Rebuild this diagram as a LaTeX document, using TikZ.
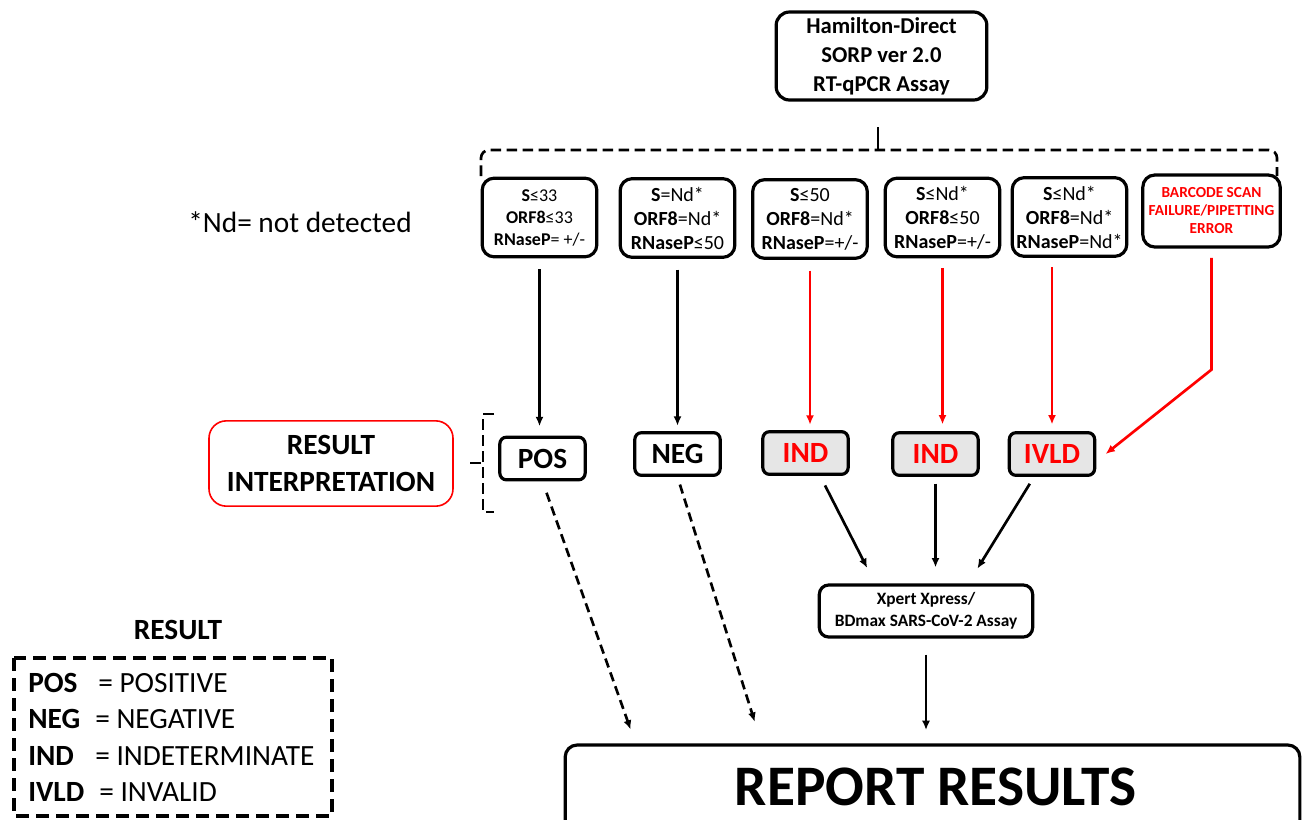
\documentclass[tikz,border=0pt]{standalone}
\usepackage{fontspec}
\setmainfont{Carlito}
\usetikzlibrary{arrows.meta}
\usetikzlibrary{positioning}
\definecolor{boxgray}{RGB}{230,230,230}
\definecolor{errred}{RGB}{255,0,0}

\tikzset{
  cond/.style={draw, line width=2.4pt, rounded corners=9pt, align=center, minimum width=86pt, minimum height=59pt, inner sep=1pt, font=\fontsize{15}{18}\selectfont},
  res/.style={draw, line width=2.4pt, rounded corners=5pt, minimum width=64pt, minimum height=32pt, inner sep=1pt, font=\fontsize{22}{26}\selectfont\bfseries},
  resind/.style={res, fill=boxgray, text=errred},
  arr/.style={line width=2pt, -{Latex[length=7pt,width=6pt]}},
  redarr/.style={arr, errred},
  dasharr/.style={arr, dash pattern=on 7pt off 4pt},
  dashline/.style={line width=2pt, dash pattern=on 8pt off 4pt},
}

\begin{document}
\begin{tikzpicture}[x=0.75pt, y=-0.75pt]
\useasboundingbox (0,0) rectangle (1306,819);
\clip (0,0) rectangle (1306,819);

\node[draw, line width=2.4pt, rounded corners=10pt, align=center, minimum width=158pt, minimum height=66pt,
      font=\fontsize{17}{21.75}\selectfont\bfseries] (assay) at (881.5,56) {Hamilton-Direct\\SORP ver 2.0\\RT-qPCR Assay};

\draw[dashline, rounded corners=6pt] (481,176) |- (1277,150) -- (1277,176);
\draw[line width=2pt] (878,127) -- (878,150);

\node[cond, font=\fontsize{13.5}{16.5}\selectfont] (c1) at (539.5,217.5) {\textbf{S}≤33\\\textbf{ORF8}≤33\\\textbf{RNaseP}= +/-};
\node[cond] (c2) at (677.5,218)   {\textbf{S}=Nd*\\\textbf{ORF8}=Nd*\\\textbf{RNaseP}≤50};
\node[cond] (c3) at (810,219)     {\textbf{S}≤50\\\textbf{ORF8}=Nd*\\\textbf{RNaseP}=+/-};
\node[cond] (c4) at (942.5,217.5) {\textbf{S}≤Nd*\\\textbf{ORF8}≤50\\\textbf{RNaseP}=+/-};
\node[cond] (c5) at (1069.5,217)  {\textbf{S}≤Nd*\\\textbf{ORF8}=Nd*\\\textbf{RNaseP}=Nd*};
\node[cond, text=errred, minimum width=103pt, minimum height=54pt,
      font=\fontsize{11.5}{13.5}\selectfont\bfseries] (c6) at (1211.5,211) {BARCODE SCAN\\FAILURE/PIPETTING\\ERROR};

\node[font=\fontsize{22}{26}\selectfont] (nd) at (300,222) {*Nd= not detected};

\node[draw=errred, line width=1.2pt, rounded corners=13pt, align=center, minimum width=183pt, minimum height=64pt,
      font=\fontsize{22}{27.5}\selectfont\bfseries] (interp) at (331,463.5) {RESULT\\INTERPRETATION};
\draw[dashline] (494,414) -| (483,512) -- (494,512);
\draw[dashline] (470,463) -- (483,463);

\node[res]    (pos)  at (542.5,458.5) {POS};
\node[res]    (neg)  at (677.5,454)   {NEG};
\node[resind] (ind1) at (805.5,453)   {IND};
\node[resind] (ind2) at (935.5,454)   {IND};
\node[resind] (ivld) at (1052,454)    {IVLD};

\node[draw, line width=2.4pt, rounded corners=7pt, align=center, minimum width=160pt, minimum height=39pt,
      font=\fontsize{13}{16.5}\selectfont\bfseries] (xpert) at (926,611) {Xpert Xpress/\\BDmax SARS-CoV-2 Assay};
\node[draw, line width=2.4pt, rounded corners=9pt, minimum width=551pt, minimum height=67.5pt] (report) at (932.5,790) {};
\node[font=\fontsize{43}{50}\selectfont\bfseries, inner sep=0pt] (reptxt) at (936,787) {REPORT RESULTS};

\draw[arr, shorten <=8pt, shorten >=7pt] (c1.south) -- (c1.south |- pos.north);
\draw[arr, shorten <=8pt, shorten >=4pt] (c2.south) -- (c2.south |- neg.north);
\draw[redarr, shorten <=8pt, shorten >=4pt] (c3.south) -- (c3.south |- ind1.north);
\draw[redarr, shorten <=7pt, shorten >=5pt] (c4.south) -- (c4.south |- ind2.north);
\draw[redarr, shorten <=7pt, shorten >=5pt] (c5.south -| ivld.north) -- (ivld.north);
\draw[redarr, shorten <=7pt] (c6.south) -- ++(0,121) -- ([xshift=7pt]ivld.east);

\draw[dasharr, shorten <=9pt, shorten >=11pt] (pos.south) -- ([xshift=54pt]report.north west);
\draw[dasharr, shorten <=6pt, shorten >=17pt] (neg.south) -- ([xshift=148.5pt]report.north west);
\draw[arr, shorten <=8pt, shorten >=13pt] ([xshift=11pt]ind1.south) -- ([xshift=43pt]xpert.north west);
\draw[arr, shorten <=5pt, shorten >=12pt] (ind2.south) -- (ind2.south |- xpert.north);
\draw[arr, shorten <=6pt, shorten >=13pt] ([xshift=-13.5pt]ivld.south) -- ([xshift=-49.5pt]xpert.north east);
\draw[arr, shorten <=12pt, shorten >=10pt] (xpert.south) -- (xpert.south |- report.north);

\node[font=\fontsize{22}{26}\selectfont\bfseries] (legtitle) at (178,630) {RESULT};
\draw[line width=3pt, dash pattern=on 10pt off 5pt] (14,658) rectangle (332,816);
\foreach \lab/\txt/\yy/\xe in {POS/POSITIVE/683/98, NEG/NEGATIVE/719/95, IND/INDETERMINATE/756/95, IVLD/INVALID/792/99}{
  \node[anchor=west, inner sep=0pt, font=\fontsize{22}{26}\selectfont\bfseries] (key\lab) at (28,\yy) {\lab};
  \node[anchor=west, inner sep=0pt, font=\fontsize{22}{26}\selectfont]          (def\lab) at (\xe,\yy) {= \txt};
}
\end{tikzpicture}
\end{document}
